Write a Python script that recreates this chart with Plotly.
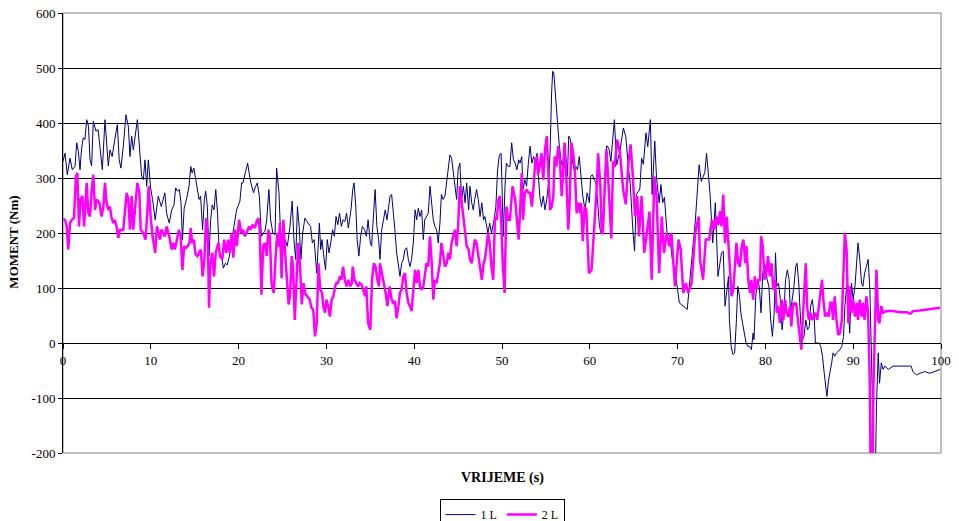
import plotly.graph_objects as go

# Series "1 L" (time s, moment Nm)
t1 = [0.0,0.23,0.49,0.8,1.06,1.37,1.56,1.75,1.94,2.1,2.3,2.5,2.7,2.9,3.08,3.26,3.45,3.76,4.0,4.2,4.48,4.78,5.05,5.16,5.35,5.6,5.9,6.19,6.4,6.6,6.87,7.17,7.44,7.63,7.82,8.01,8.47,8.7,8.96,9.15,9.34,9.53,9.72,9.98,10.2,10.5,10.85,11.2,11.6,11.8,12.1,
      12.38,12.64,12.83,13.02,13.25,13.44,13.6,13.8,14.1,14.35,14.55,14.7,14.9,15.1,15.37,15.5,15.67,15.9,16.1,16.25,16.44,16.63,16.82,17.0,17.2,17.4,17.6,17.8,18.07,18.26,18.5,18.7,18.95,19.2,19.47,19.77,20.15,20.34,20.5,20.8,21.03,21.2,21.4,21.7,21.87,22.13,22.36,22.6,22.8,23.0,23.2,23.45,23.65,23.9,24.15,24.33,24.6,24.8,
      24.95,25.1,25.3,25.55,25.85,26.1,26.3,26.5,26.7,26.9,27.1,27.3,27.55,27.9,28.2,28.4,28.6,28.9,29.2,29.35,29.5,29.7,29.9,30.1,30.3,30.5,30.7,30.9,31.1,31.3,31.5,31.7,31.9,32.1,32.3,32.5,32.8,33.0,33.15,33.35,33.5,33.7,33.9,34.1,34.35,34.55,34.75,35.0,35.15,35.4,35.55,35.75,35.95,36.1,36.3,36.5,36.7,36.9,
      37.25,37.43,37.6,37.8,38.0,38.2,38.38,38.57,38.76,38.95,39.14,39.33,39.52,39.7,39.9,40.1,40.28,40.47,40.66,40.85,41.04,41.2,41.4,41.6,41.8,42.0,42.17,42.36,42.55,42.74,42.93,43.1,43.3,43.5,43.7,43.9,44.07,44.26,44.45,44.64,44.83,45.0,45.2,45.4,45.6,45.8,45.98,46.2,46.35,46.55,46.73,46.9,47.1,47.3,47.5,47.7,47.9,48.05,48.25,48.4,48.6,48.8,49.1,49.3,49.5,49.7,49.9,
      50.15,50.34,50.5,50.7,50.9,51.1,51.3,51.5,51.7,51.9,52.05,52.25,52.4,52.6,52.8,53.0,53.2,53.4,53.6,53.8,54.0,54.1,54.3,54.5,54.7,54.9,55.1,55.3,55.47,55.65,55.77,55.9,56.1,56.3,56.5,56.7,56.9,57.1,57.3,57.45,57.6,57.8,58.0,58.2,58.4,58.6,58.8,59.0,59.2,59.4,59.5,59.7,59.95,60.1,60.3,60.5,60.7,60.9,61.1,61.3,61.5,61.7,61.9,62.0,62.2,
      62.4,62.6,62.8,63.06,63.44,63.82,64.1,64.4,64.6,64.9,65.1,65.3,65.7,65.9,66.1,66.4,66.6,66.9,67.1,67.4,67.6,67.9,68.1,68.3,68.5,68.8,69.1,69.4,69.8,70.2,70.6,71.1,71.4,72.0,72.45,72.7,73.1,73.3,73.7,74.0,74.3,74.6,
      75.0,75.2,75.4,75.6,75.8,75.9,76.1,76.3,76.5,76.7,76.85,77.05,77.2,77.4,77.6,77.8,78.0,78.2,78.4,78.6,78.7,78.9,79.1,79.3,79.5,79.7,79.9,80.0,80.2,80.4,80.6,80.8,81.0,81.15,81.3,81.5,81.7,81.9,82.1,82.3,82.5,82.7,82.85,83.05,83.25,83.45,83.6,83.8,84.0,84.2,84.4,84.6,84.8,85.0,85.15,85.35,85.55,85.7,85.9,86.1,86.3,86.5,86.7,86.9,87.0,87.2,87.35,
      87.55,87.7,87.9,88.1,88.3,88.5,88.7,88.9,89.05,89.25,89.45,89.6,89.8,90.0,90.2,90.4,90.55,90.75,90.95,91.1,91.3,91.5,91.7,91.9,92.1,92.2,92.35,92.5,92.65,92.85,93.0,93.2,93.4,93.6,94.0,94.55,95.3,96.1,96.6,96.8,97.2,97.6,98.15,98.75,99.3,99.9]
v1 = [330,345,306,336,315,321,364,348,315,351,373,370,406,394,333,322,403,385,388,358,315,406,345,322,351,339,370,397,333,318,358,415,394,339,376,351,406,364,303,297,333,285,333,282,261,224,267,248,273,236,218,
      242,251,282,276,279,255,188,245,264,285,321,309,318,297,267,261,267,206,261,276,248,158,224,251,242,279,236,164,158,136,145,142,158,188,212,242,258,291,291,312,327,309,291,273,282,291,267,194,200,203,224,279,224,200,197,318,273,188,
      200,176,188,176,212,258,188,152,248,212,152,200,227,218,212,182,188,127,218,170,188,158,133,188,164,182,206,194,230,215,236,212,224,221,236,209,242,279,291,248,188,158,194,212,206,194,224,182,176,242,279,212,188,152,206,224,242,224,
      267,270,245,206,164,139,121,145,152,170,173,152,139,152,182,242,224,245,230,242,188,224,230,236,285,248,224,212,206,182,218,270,261,267,297,327,342,336,309,285,261,315,327,261,285,255,291,242,285,255,242,261,279,261,230,255,224,230,212,200,218,200,224,248,315,342,345,
      194,285,327,321,321,364,333,327,315,333,327,339,279,297,285,327,358,327,339,327,345,315,267,248,267,242,261,291,345,455,494,491,442,394,364,333,321,364,333,303,376,370,333,315,321,315,339,303,267,248,248,273,255,303,306,297,291,255,212,200,200,273,358,358,352,
      330,364,406,324,350,391,375,318,290,206,167,270,280,336,325,382,357,406,270,367,300,255,288,255,265,200,195,152,121,73,67,61,115,218,324,294,310,345,270,182,255,121,
      164,167,67,97,121,42,-6,-21,-18,42,103,85,55,36,18,0,-6,-6,-12,18,6,85,115,103,55,127,145,139,115,103,42,12,55,164,103,109,79,24,55,115,133,115,55,79,103,139,145,109,42,6,12,42,24,30,67,79,48,0,0,0,-6,-24,-55,-85,-97,-67,-55,
      -36,-18,-24,-18,-15,-12,-6,12,67,103,67,18,109,79,103,145,182,152,109,103,127,139,152,97,-18,-109,-260,-260,-115,-18,-73,-36,-48,-42,-48,-42,-42,-42,-42,-52,-58,-55,-52,-55,-52,-48]

# Series "2 L" (time s, moment Nm)
t2 = [0.0,0.23,0.42,0.6,0.8,1.0,1.25,1.48,1.63,1.82,2.0,2.2,2.4,2.7,2.88,3.08,3.26,3.45,3.65,3.83,4.14,4.4,4.6,4.78,4.97,5.16,5.35,5.5,5.73,5.9,6.1,6.3,6.5,6.87,7.25,7.44,7.63,7.82,8.0,8.3,8.47,8.7,8.85,9.15,9.4,9.6,9.76,9.98,10.2,10.5,10.7,11.05,11.2,11.6,11.8,12.1,
      12.38,12.56,12.75,12.9,13.2,13.4,13.6,13.8,14.0,14.2,14.4,14.55,14.7,14.9,15.1,15.3,15.5,15.7,15.9,16.1,16.3,16.5,16.63,16.8,17.0,17.2,17.4,17.7,17.88,18.15,18.35,18.6,18.8,19.0,19.2,19.4,19.6,19.8,20.05,20.3,20.5,20.7,20.9,21.2,21.35,21.6,21.87,22.05,22.25,22.4,22.6,22.8,23.0,23.2,23.4,23.56,23.75,24.0,24.2,24.4,24.55,
      24.7,24.9,25.1,25.3,25.5,25.7,25.85,26.05,26.2,26.4,26.6,26.8,27.0,27.2,27.4,27.55,27.8,28.1,28.3,28.5,28.7,28.9,29.1,29.3,29.5,29.65,29.85,30.0,30.2,30.4,30.6,30.8,31.0,31.15,31.3,31.55,31.7,31.9,32.1,32.3,32.5,32.7,32.9,33.0,33.2,33.4,33.6,33.8,34.0,34.2,34.4,34.55,34.75,35.0,35.2,35.4,35.6,35.8,36.0,36.1,36.4,36.55,36.75,36.95,37.2,
      37.43,37.6,37.8,38.0,38.2,38.38,38.57,38.76,38.95,39.14,39.33,39.52,39.7,39.9,40.1,40.28,40.47,40.66,40.85,41.04,41.2,41.4,41.6,41.8,42.0,42.17,42.36,42.55,42.74,42.93,43.1,43.3,43.5,43.7,43.9,44.07,44.26,44.45,44.64,44.83,45.0,45.2,45.4,45.6,45.8,45.98,46.2,46.35,46.55,46.73,46.9,47.1,47.3,47.5,47.7,47.9,48.05,48.25,48.4,48.6,48.8,49.0,49.2,49.4,49.6,49.75,49.9,
      50.1,50.3,50.4,50.5,50.7,50.9,51.2,51.5,51.7,51.9,52.05,52.25,52.4,52.6,52.8,53.0,53.2,53.4,53.6,53.8,54.0,54.1,54.3,54.5,54.7,54.9,55.1,55.3,55.47,55.65,55.85,56.0,56.2,56.4,56.6,56.8,57.0,57.15,57.35,57.55,57.7,57.9,58.1,58.3,58.5,58.7,58.9,59.0,59.2,59.4,59.6,59.9,60.2,60.4,60.6,60.8,60.95,61.2,61.35,61.5,61.7,61.9,62.1,
      62.3,62.45,62.65,62.85,63.1,63.44,63.8,64.1,64.4,64.65,64.9,65.15,65.4,65.6,65.9,66.2,66.5,66.8,67.05,67.35,67.6,67.9,68.2,68.45,68.75,69.05,69.3,69.7,70.1,70.35,70.65,70.95,71.2,71.6,72.0,72.4,72.55,72.9,73.2,73.6,73.9,74.15,74.45,74.65,
      74.85,75.0,75.2,75.4,75.6,75.8,75.97,76.15,76.35,76.5,76.7,76.9,77.1,77.3,77.5,77.7,77.85,78.05,78.25,78.4,78.6,78.8,79.0,79.2,79.4,79.5,79.7,79.9,80.1,80.3,80.5,80.7,80.9,81.1,81.3,81.45,81.66,81.85,82.05,82.25,82.4,82.6,82.8,82.95,83.15,83.35,83.5,83.7,83.9,84.1,84.25,84.4,84.6,84.75,84.95,85.15,85.3,85.5,85.7,85.9,86.05,86.25,86.45,86.6,86.8,87.0,87.2,87.4,
      87.55,87.7,87.9,88.1,88.3,88.5,88.7,88.9,89.05,89.25,89.45,89.6,89.8,90.0,90.2,90.4,90.55,90.75,90.95,91.1,91.3,91.5,91.7,91.9,92.0,92.2,92.3,92.5,92.65,92.85,93.0,93.2,93.4,93.8,94.55,95.3,96.1,96.5,96.8,97.6,98.75,99.9]
v2 = [225,224,212,170,218,224,227,303,309,212,261,267,212,291,236,230,276,306,242,261,255,230,248,291,255,242,248,230,218,224,212,191,206,206,273,261,206,267,206,255,291,273,206,200,188,236,285,230,194,164,212,188,206,194,212,194,
      170,182,170,182,206,194,133,176,173,176,182,209,182,188,161,158,164,170,121,152,227,188,64,145,164,121,164,182,158,152,188,164,188,164,200,155,206,176,224,200,206,194,200,212,206,215,209,221,227,206,88,176,182,158,206,194,109,91,152,200,175,
      218,118,224,164,115,70,85,158,139,42,115,182,139,70,109,91,85,79,64,61,12,36,145,97,91,67,55,79,67,48,79,85,103,109,109,121,115,139,115,103,115,103,109,139,115,109,103,109,106,97,85,103,36,24,115,145,139,115,103,145,121,103,91,67,103,
      79,73,76,45,67,91,97,121,127,91,73,67,58,103,133,109,133,103,97,103,121,145,139,194,145,79,115,109,127,145,182,164,139,145,164,152,182,194,206,176,212,285,255,230,200,176,170,152,145,164,188,182,158,133,115,145,152,176,200,182,139,115,230,224,261,267,224,
      140,91,176,248,224,224,285,261,224,188,236,309,224,273,279,273,273,248,285,333,339,306,321,345,297,352,376,306,242,248,267,339,321,358,333,267,315,364,291,206,255,364,345,315,236,255,236,255,185,248,242,127,133,182,242,285,345,285,200,200,285,352,297,
      240,190,330,320,370,345,279,252,327,361,303,230,267,194,267,164,200,239,115,303,267,127,230,164,200,176,200,103,188,170,91,109,91,109,200,230,152,115,188,188,224,206,230,215,
      240,212,270,182,230,176,115,85,97,127,182,145,139,176,188,145,176,115,91,115,79,121,97,115,115,194,176,115,127,158,121,145,97,115,55,67,36,79,42,79,55,48,67,30,73,70,73,42,12,-12,42,97,145,67,42,55,42,48,55,42,61,85,115,79,48,55,48,73,
      73,42,85,42,15,18,42,133,200,170,36,103,55,79,48,73,42,79,48,73,42,85,55,-79,-260,-260,-79,42,133,42,36,67,55,58,58,56,56,53,58,59,61,64]

x_ticks = [0, 10, 20, 30, 40, 50, 60, 70, 80, 90, 100]
x_labels = ["0", "10", "20", "30", "40", "50", "60", "70", "80", "90", "100"]
y_ticks = [-200, -100, 0, 100, 200, 300, 400, 500, 600]
y_labels = ["-200", "-100", "0", "100", "200", "300", "400", "500", "600"]

serif = "Times New Roman, Liberation Serif, serif"

fig = go.Figure()
fig.add_trace(go.Scatter(x=t1, y=v1, mode="lines", name="1 L",
                         line=dict(color="#000080", width=1)))
fig.add_trace(go.Scatter(x=t2, y=v2, mode="lines", name="2 L",
                         line=dict(color="#FF00FF", width=2.5)))

fig.update_layout(
    width=959, height=521,
    margin=dict(l=63, r=18, t=13, b=68, autoexpand=False),
    paper_bgcolor="white", plot_bgcolor="white",
    font=dict(family=serif, size=13, color="black"),
    showlegend=True,
    legend=dict(orientation="h", x=0.5, y=-0.14, xanchor="center", yanchor="middle",
                bordercolor="black", borderwidth=1, font=dict(family=serif, size=12),
                itemwidth=30, tracegroupgap=0),
    xaxis=dict(range=[0, 100], tickvals=x_ticks, ticktext=x_labels, showgrid=False, zeroline=False,
               showline=True, linecolor="black", linewidth=1, automargin=False,
               ticks="outside", ticklen=5, tickcolor="black",
               anchor="free", position=0.25,
               tickfont=dict(family=serif, size=13)),
    yaxis=dict(range=[-200, 600], tickvals=y_ticks, ticktext=y_labels, showgrid=True, gridcolor="black",
               gridwidth=1, zeroline=False, showline=True, linecolor="black", linewidth=1,
               automargin=False, ticks="outside", ticklen=4, tickcolor="black",
               tickfont=dict(family=serif, size=13)),
    shapes=[dict(type="rect", xref="paper", yref="paper", x0=0, x1=1, y0=0, y1=1,
                 line=dict(color="#808080", width=1), layer="below")],
    annotations=[
        dict(text="<b>VRIJEME (s)</b>", xref="paper", yref="paper", x=0.5, y=-0.057,
             showarrow=False, font=dict(family=serif, size=14), xanchor="center", yanchor="middle"),
        dict(text="<b>MOMENT (Nm)</b>", xref="paper", yref="paper", x=-0.056, y=0.48,
             showarrow=False, textangle=-90, font=dict(family=serif, size=13),
             xanchor="center", yanchor="middle"),
    ],
)

fig.write_html("out.html", config={"displayModeBar": False},
               post_script="document.body.style.margin='0px';document.body.style.padding='0px';")
